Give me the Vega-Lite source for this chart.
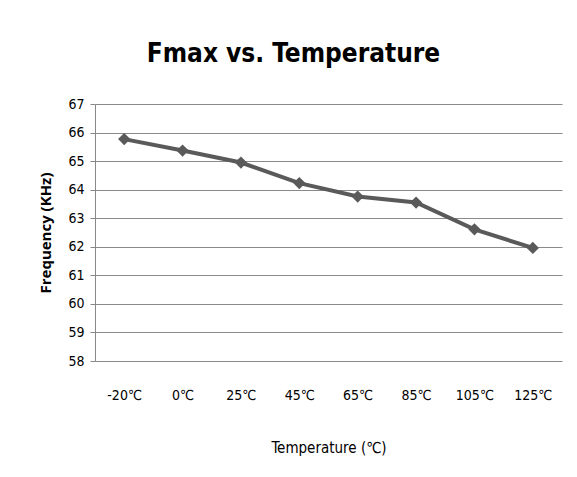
{
  "$schema": "https://vega.github.io/schema/vega-lite/v6.json",
  "autosize": "none",
  "width": 467,
  "height": 257,
  "padding": {"left": 95, "top": 104, "right": 15, "bottom": 116},
  "background": "white",
  "title": {
    "text": "Fmax vs. Temperature",
    "font": "DejaVu Sans Condensed",
    "fontSize": 26,
    "fontWeight": "bold",
    "color": "#000000",
    "anchor": "middle",
    "dx": -35,
    "offset": 30
  },
  "data": {
    "values": [
      {"temp": "-20℃", "freq": 65.77},
      {"temp": "0℃", "freq": 65.37},
      {"temp": "25℃", "freq": 64.95},
      {"temp": "45℃", "freq": 64.23},
      {"temp": "65℃", "freq": 63.76},
      {"temp": "85℃", "freq": 63.55},
      {"temp": "105℃", "freq": 62.61},
      {"temp": "125℃", "freq": 61.96}
    ]
  },
  "config": {
    "view": {"stroke": null},
    "axis": {
      "labelFont": "DejaVu Sans Condensed",
      "labelColor": "#000000",
      "titleColor": "#000000"
    }
  },
  "mark": {
    "type": "line",
    "color": "#5a5a5a",
    "strokeWidth": 4,
    "point": {"shape": "diamond", "size": 150, "filled": true, "color": "#5a5a5a", "opacity": 1}
  },
  "encoding": {
    "x": {
      "field": "temp",
      "type": "ordinal",
      "sort": null,
      "scale": {"type": "point", "padding": 0.5},
      "axis": {
        "title": "Temperature (℃)",
        "titleFont": "DejaVu Sans Condensed",
        "titleFontSize": 15,
        "titleFontWeight": "normal",
        "titlePadding": 38,
        "labelAngle": 0,
        "labelFontSize": 14,
        "labelPadding": 27,
        "ticks": false,
        "domain": false,
        "grid": false
      }
    },
    "y": {
      "field": "freq",
      "type": "quantitative",
      "scale": {"domain": [58, 67], "nice": false, "zero": false},
      "axis": {
        "title": "Frequency (KHz)",
        "titleFont": "Open Sans",
        "titleFontSize": 15,
        "titleFontWeight": "bold",
        "titlePadding": 14,
        "values": [58, 59, 60, 61, 62, 63, 64, 65, 66, 67],
        "labelFontSize": 14,
        "labelPadding": 6,
        "tickSize": 5,
        "tickColor": "#888888",
        "domainColor": "#888888",
        "grid": true,
        "gridColor": "#8a8a8a",
        "gridWidth": 1.2
      }
    }
  }
}
